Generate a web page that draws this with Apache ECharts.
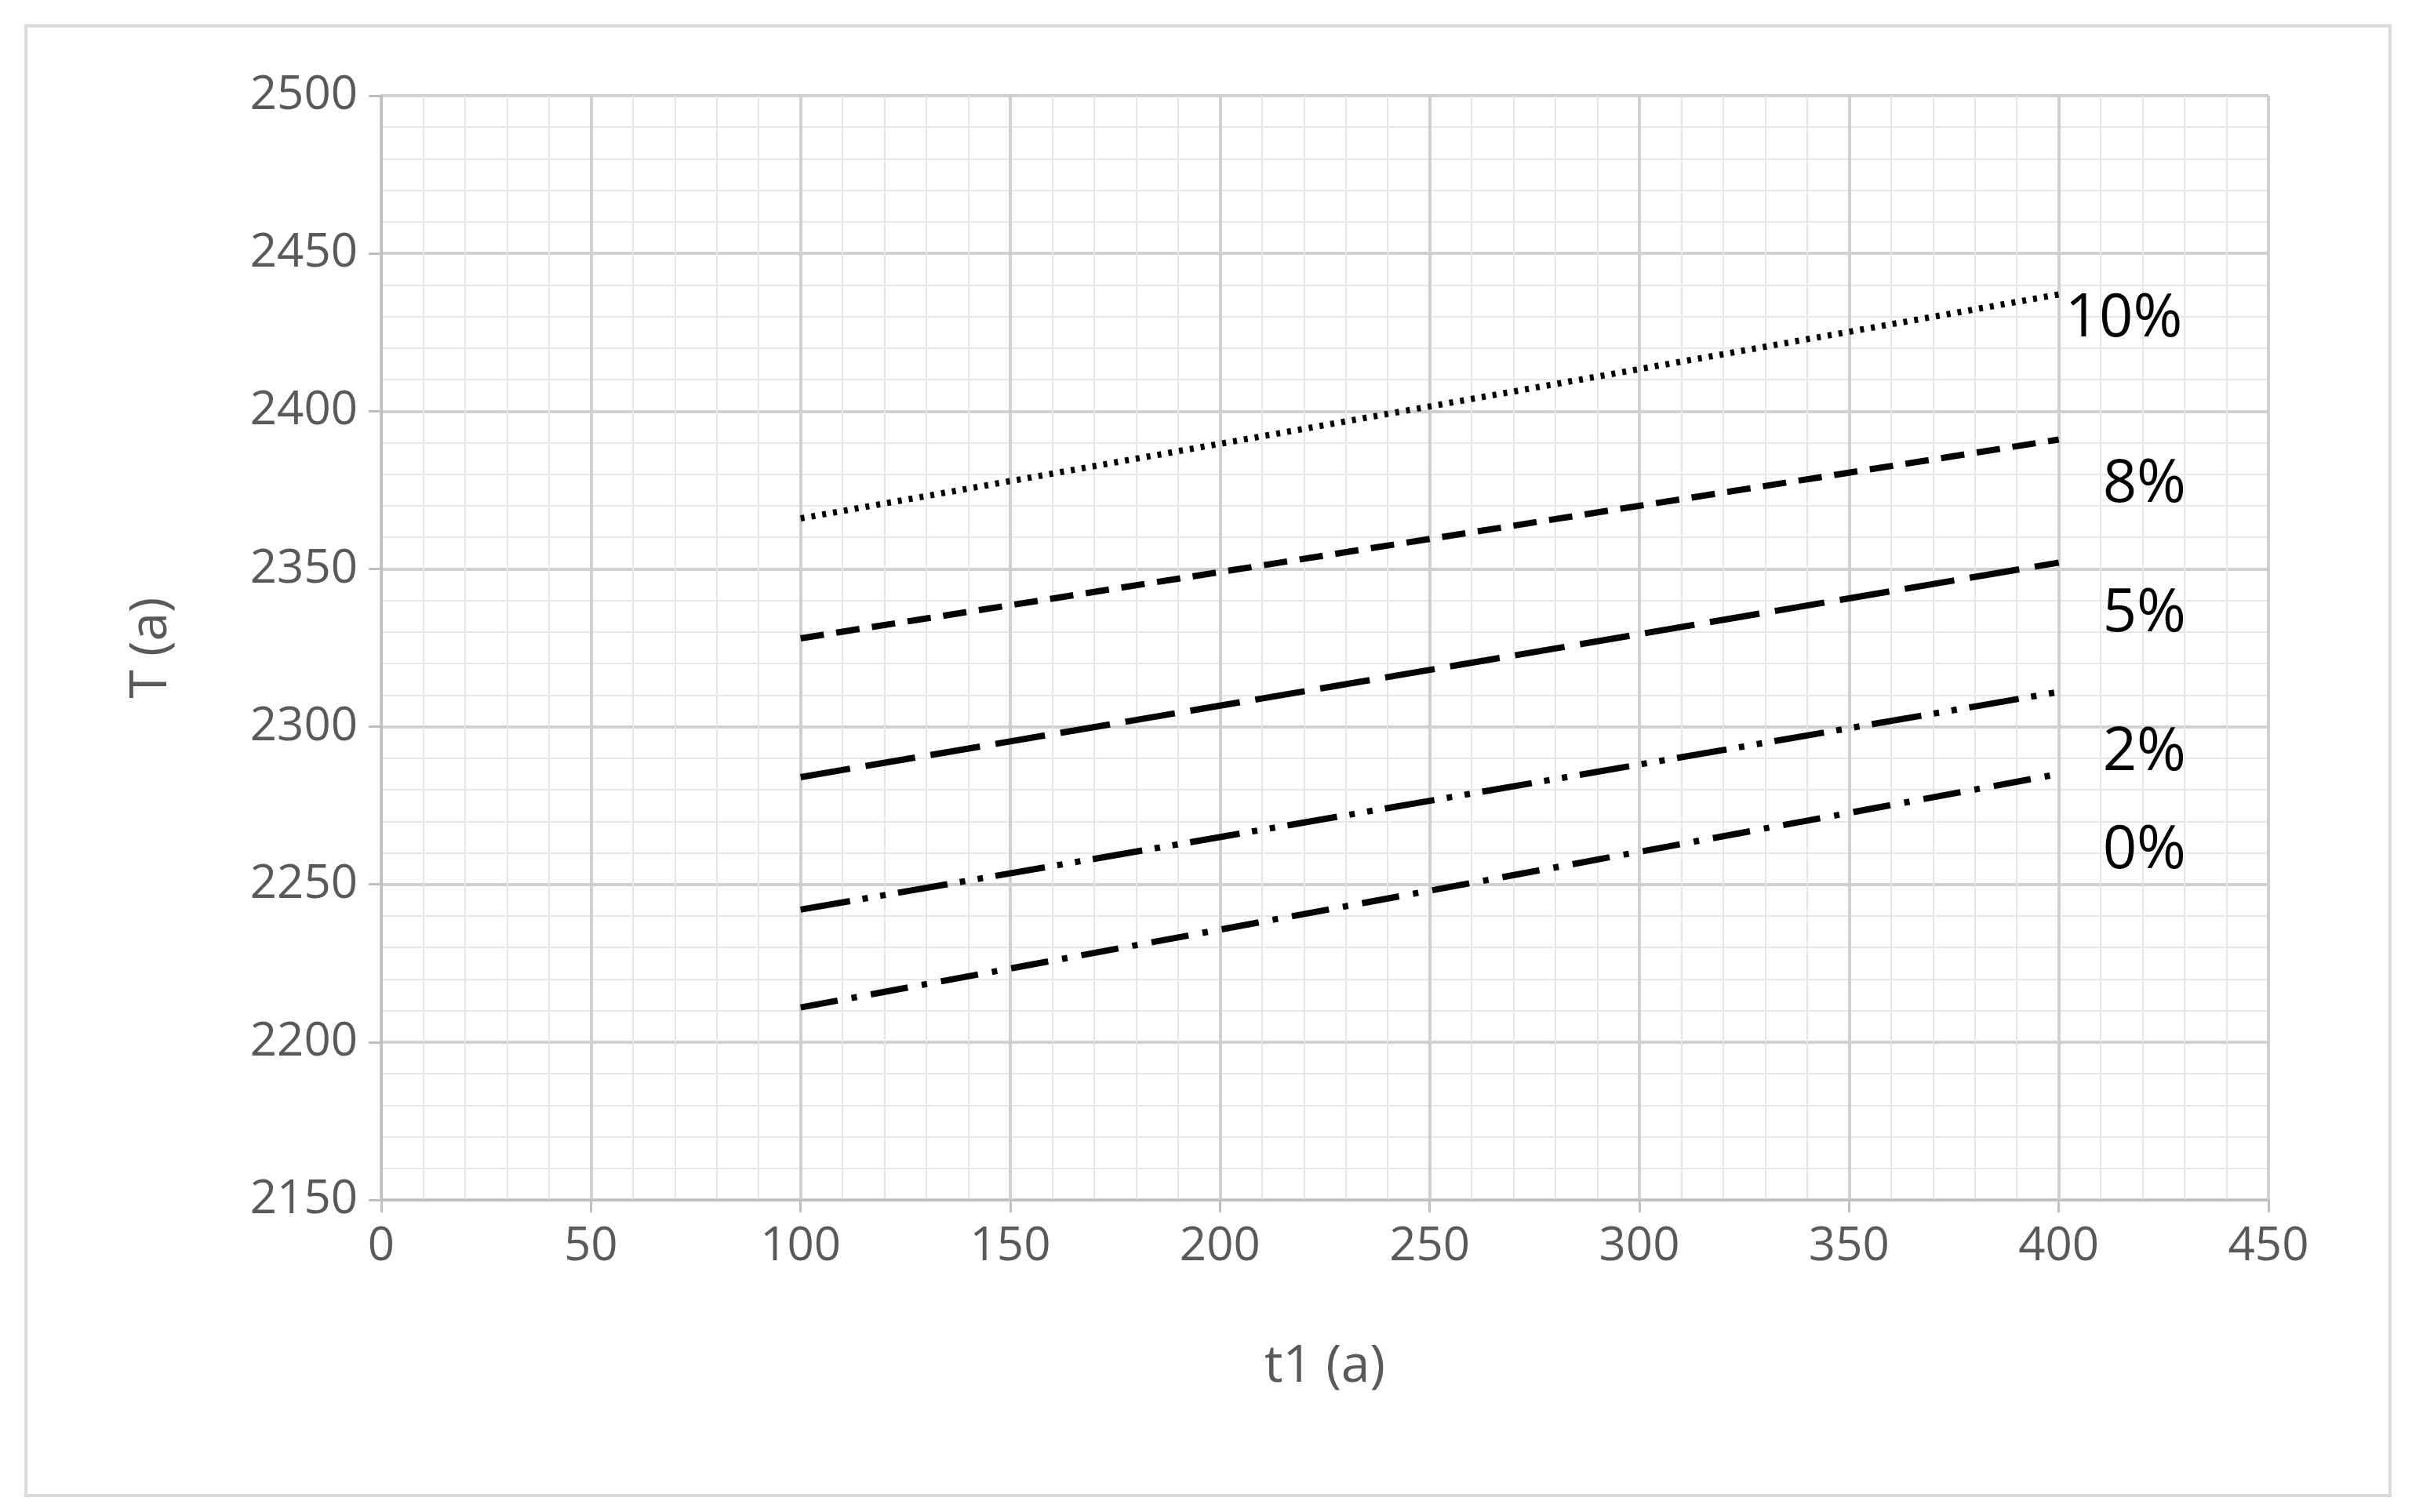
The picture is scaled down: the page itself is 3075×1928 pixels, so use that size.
<!DOCTYPE html>
<html><head><meta charset="utf-8">
<script src="https://cdn.jsdelivr.net/npm/echarts@6/dist/echarts.min.js"></script>
<style>
html,body{margin:0;background:#fff}
#frame{position:absolute;left:31px;top:31px;width:3010px;height:1870px;border:4px solid #d9d9d9}
#chart{position:absolute;left:0;top:0;width:3075px;height:1928px}
</style></head><body>
<div id="frame"></div>
<div id="chart"></div>
<script>
// values
const t1 = [100, 400];
const names = ['10%', '8%', '5%', '2%', '0%'];
const T10 = [2366, 2437];
const T8 = [2328, 2391];
const T5 = [2284, 2352];
const T2 = [2242, 2311];
const T0 = [2211, 2285];

const values = [T10, T8, T5, T2, T0];
const dashes = [[5, 9], [30, 16], [64, 20], [64, 16, 7, 16, 7, 16], [48, 18, 7, 18]];
const labelOffsets = [[0, 32], [48, 58], [48, 66], [48, 78], [48, 98]];
const font = '"Open Sans", "Liberation Sans", sans-serif';

const series = values.map((v, i) => ({
  type: 'line',
  name: names[i],
  data: t1.map((x, j) => [x, v[j]]),
  symbol: 'none',
  lineStyle: { color: '#000', width: 8, type: dashes[i], cap: 'butt' },
  endLabel: {
    show: true, formatter: names[i], color: '#000', fontSize: 76,
    fontFamily: font, offset: labelOffsets[i]
  },
  silent: true
}));

const chart = echarts.init(document.getElementById('chart'));
chart.setOption({
  animation: false,
  grid: { left: 486, right: 183, top: 122, bottom: 398 },
  xAxis: {
    type: 'value', min: 0, max: 450, interval: 50,
    name: 't1 (a)', nameLocation: 'middle', nameGap: 180,
    nameTextStyle: { fontSize: 66, color: '#595959', fontFamily: font },
    axisLabel: { fontSize: 60, color: '#595959', fontFamily: font, margin: 30, formatter: v => String(v) },
    axisLine: { lineStyle: { color: '#bfbfbf', width: 3 } },
    axisTick: { show: true, length: 16, lineStyle: { color: '#bfbfbf', width: 3 } },
    splitLine: { lineStyle: { color: '#d0d0d0', width: 4 } },
    minorTick: { show: false, splitNumber: 5 },
    minorSplitLine: { show: true, lineStyle: { color: '#e6e6e6', width: 2 } }
  },
  yAxis: {
    type: 'value', min: 2150, max: 2500, interval: 50,
    name: 'T (a)', nameLocation: 'middle', nameGap: 260,
    nameTextStyle: { fontSize: 66, color: '#595959', fontFamily: font },
    axisLabel: { fontSize: 60, color: '#595959', fontFamily: font, margin: 30, formatter: v => String(v) },
    axisLine: { show: true, lineStyle: { color: '#bfbfbf', width: 3 } },
    axisTick: { show: true, length: 16, lineStyle: { color: '#bfbfbf', width: 3 } },
    splitLine: { lineStyle: { color: '#d0d0d0', width: 4 } },
    minorTick: { show: false, splitNumber: 5 },
    minorSplitLine: { show: true, lineStyle: { color: '#e6e6e6', width: 2 } }
  },
  series: series
});
</script>
</body></html>
